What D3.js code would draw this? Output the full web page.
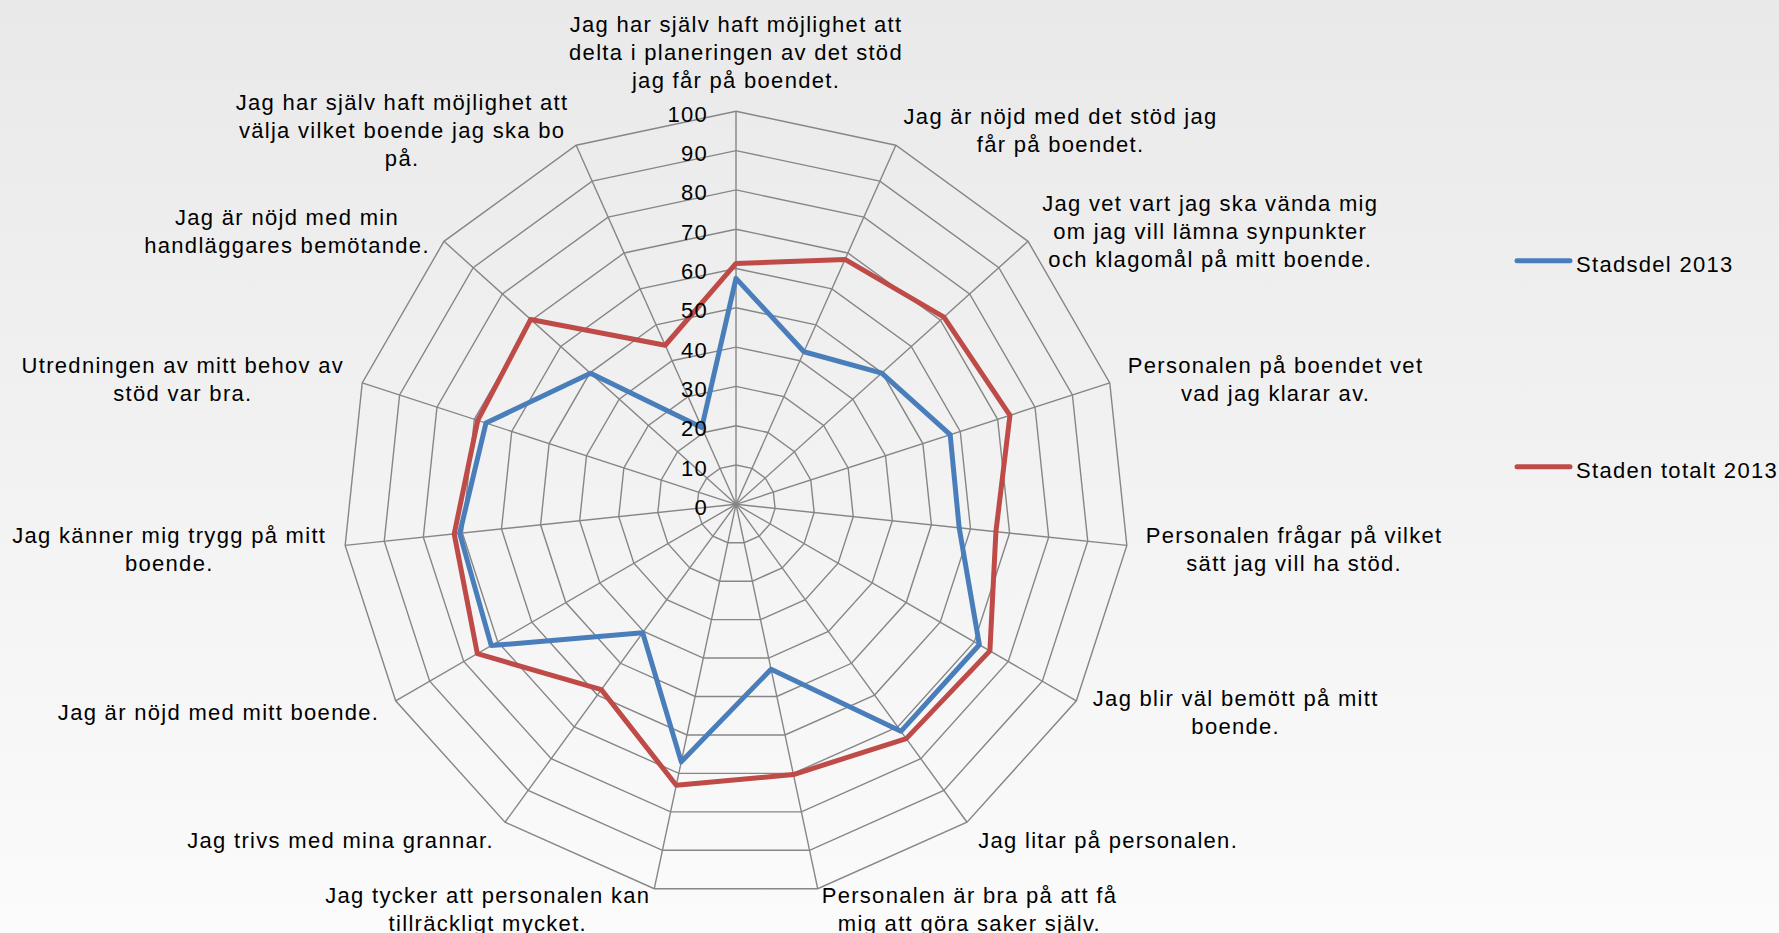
<!DOCTYPE html>
<html>
<head>
<meta charset="utf-8">
<script src="https://cdn.jsdelivr.net/npm/d3@7"></script>
<style>
html,body{margin:0;padding:0;overflow:hidden;}
svg{display:block;}
text{font-family:"Liberation Sans",Arial,sans-serif;fill:#000;}
</style>
</head>
<body>
<svg id="chart" width="1779" height="933"></svg>
<script>
// ---- data ----
const categories = [
  ["Jag har själv haft möjlighet att", "delta i planeringen  av det stöd", "jag får på boendet."],
  ["Jag är nöjd med det stöd jag", "får på boendet."],
  ["Jag vet vart jag ska vända mig", "om jag vill lämna  synpunkter", "och klagomål på mitt boende."],
  ["Personalen på boendet vet", "vad jag klarar av."],
  ["Personalen frågar på vilket", "sätt jag vill ha stöd."],
  ["Jag blir väl bemött på mitt", "boende."],
  ["Jag litar på personalen."],
  ["Personalen är bra på att få", "mig att göra saker själv."],
  ["Jag tycker att personalen  kan", "tillräckligt mycket."],
  ["Jag trivs med mina  grannar."],
  ["Jag är nöjd med mitt boende."],
  ["Jag känner mig trygg på mitt", "boende."],
  ["Utredningen av mitt behov av", "stöd var bra."],
  ["Jag är nöjd med min", "handläggares bemötande."],
  ["Jag har själv haft möjlighet att", "välja vilket boende jag ska bo", "på."]
];
const seriesNames = ["Stadsdel 2013", "Staden totalt 2013"];
const stadsdel2013 = [57.5, 42.5, 49.9, 57.3, 57.1, 71.5, 71.4, 42.9, 67.0, 40.4, 71.9, 70.7, 66.9, 49.8, 21.4];
const stadenTotalt2013 = [61.3, 68.2, 71.2, 73.3, 66.5, 74.6, 73.7, 70.3, 73.1, 58.3, 76.0, 72.1, 69.1, 70.3, 44.3];
const tickValues = [0, 10, 20, 30, 40, 50, 60, 70, 80, 90, 100];
const colors = ["#4a7ebb", "#be4b48"];

// ---- layout ----
const W = 1779, H = 933;
const cx = 736, cy = 504.3, R = 393;
const fontSize = 22, letterSp = 1.3, lineH = 28;

const svg = d3.select("#chart");
const defs = svg.append("defs");
const grad = defs.append("linearGradient").attr("id","bg").attr("x1",0).attr("y1",0).attr("x2",0).attr("y2",1);
grad.append("stop").attr("offset","0%").attr("stop-color","#e9e9e9");
grad.append("stop").attr("offset","100%").attr("stop-color","#fbfbfb");
svg.append("rect").attr("width",W).attr("height",H).attr("fill","url(#bg)");

const n = categories.length;
const r = d3.scaleLinear().domain([0,100]).range([0,R]);
const angle = d3.scaleLinear().domain([0,n]).range([0, 2*Math.PI]);

const g = svg.append("g").attr("transform",`translate(${cx},${cy})`);

const pt = (i, v) => [Math.sin(angle(i))*r(v), -Math.cos(angle(i))*r(v)];

// grid polygons
const idx = d3.range(n);
tickValues.filter(t => t > 0).forEach(t => {
  g.append("path")
    .attr("d", d3.line().curve(d3.curveLinearClosed)(idx.map(i => pt(i,t))))
    .attr("fill","none").attr("stroke","#868686").attr("stroke-width",1.4);
});
// spokes
idx.forEach(i => {
  const p = pt(i,100);
  g.append("line").attr("x1",0).attr("y1",0).attr("x2",p[0]).attr("y2",p[1])
    .attr("stroke","#868686").attr("stroke-width",1.4);
});

// series
const radial = d3.lineRadial().curve(d3.curveLinearClosed)
  .angle((d,i) => angle(i)).radius(d => r(d));
[stadsdel2013, stadenTotalt2013].forEach((s,k) => {
  g.append("path").attr("d", radial(s))
    .attr("fill","none").attr("stroke",colors[k]).attr("stroke-width",5)
    .attr("stroke-linejoin","round");
});

// tick labels
tickValues.forEach(t => {
  g.append("text").attr("x",-28).attr("y",-r(t)+10.5)
    .attr("text-anchor","end").attr("font-size",fontSize)
    .style("letter-spacing", letterSp+"px")
    .text(t);
});

// category labels
const pad = 19;
categories.forEach((lines, i) => {
  const a = angle(i);
  const s = Math.sin(a), c = Math.cos(a);
  const ax = cx + s*(R+pad), ay = cy - c*(R+pad);
  const tg = svg.append("g");
  const texts = lines.map(l => tg.append("text").attr("font-size",fontSize)
      .style("letter-spacing", letterSp+"px").attr("text-anchor","middle").text(l));
  const wmax = d3.max(texts, t => t.node().getComputedTextLength());
  let mx;
  if (Math.abs(s) < 0.01) mx = ax;
  else if (s > 0) mx = ax + wmax/2;
  else mx = ax - wmax/2;
  const m = lines.length;
  texts.forEach((t, j) => {
    let y;
    if (Math.abs(s) < 0.01 && c > 0) {
      y = ay - 4.5 - (m-1-j)*lineH;
    } else if (Math.abs(s) < 0.01 && c < 0) {
      y = ay + 16 + j*lineH;
    } else {
      y = ay + (j - (m-1)/2)*lineH + 10;
    }
    t.attr("x", mx).attr("y", y);
  });
});

// legend
const legY = [260.7, 466.7];
seriesNames.forEach((name,k) => {
  svg.append("line").attr("x1",1517).attr("x2",1570).attr("y1",legY[k]).attr("y2",legY[k])
    .attr("stroke",colors[k]).attr("stroke-width",5).attr("stroke-linecap","round");
  svg.append("text").attr("x",1576).attr("y",legY[k]+10.8)
    .attr("font-size",fontSize).style("letter-spacing", letterSp+"px").text(name);
});
</script>
</body>
</html>
